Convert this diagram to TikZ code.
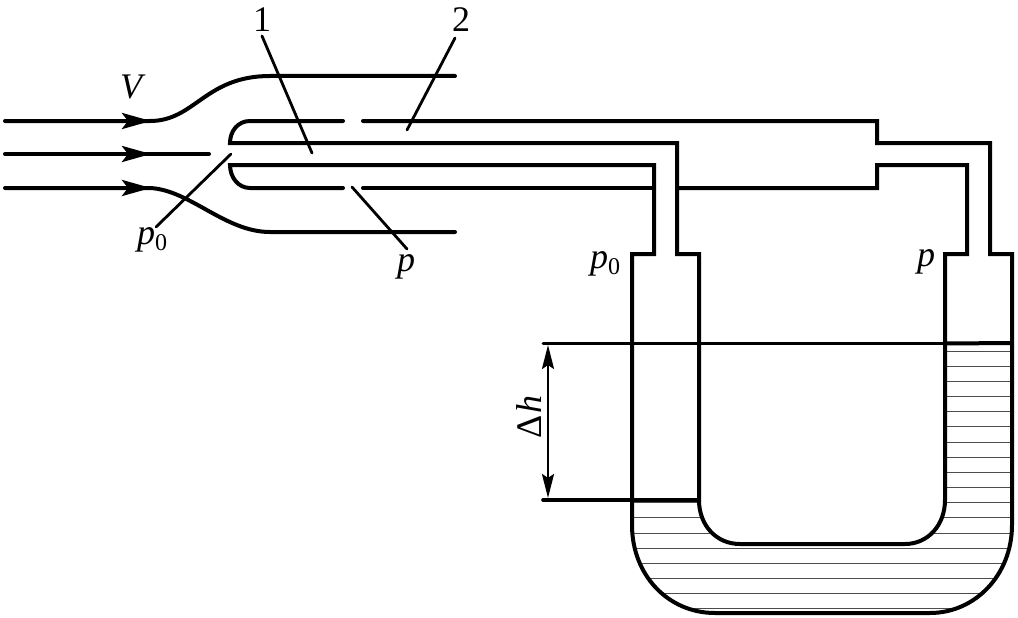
\documentclass[tikz,border=0pt]{standalone}
\usepackage{fontspec}
\setmainfont{Liberation Serif}
\usetikzlibrary{arrows.meta}
\newcommand{\subzero}{\raisebox{-0.17em}{\upshape\fontsize{24}{24}\selectfont 0}}
\tikzset{
  wall/.style={line width=4pt,line join=miter,line cap=butt},
  stream/.style={line width=4pt,line cap=round},
  leader/.style={line width=2.8pt,line cap=round},
  level/.style={line width=3pt},
  hatch/.style={line width=1pt,black!70},
  flowhead/.style={-{Stealth[length=29pt,width=16pt,inset=6pt]},line width=4pt},
  dimline/.style={{Stealth[length=24pt,width=12pt,inset=4pt]}-{Stealth[length=24pt,width=12pt,inset=4pt]},line width=2.8pt},
  lab/.style={font=\fontsize{36}{36}\selectfont,inner sep=0pt}
}
\begin{document}
\begin{tikzpicture}[x=1pt,y=-1pt]
\useasboundingbox (0,0) rectangle (1018,618);
% liquid hatching
\begin{scope}
\clip (945,343) -- (1012,343) -- (1012,525) .. controls (1012,575) and (975,613) .. (930,613)
  -- (715,613) .. controls (668,613) and (632,575) .. (632,525) -- (632,500) -- (699,500)
  .. controls (699,525) and (716,544) .. (740,544) -- (905,544)
  .. controls (928,544) and (945,525) .. (945,500) -- cycle;
\foreach \yy in {351.5,366.5,381.5,396.5,411.5,426.5,442,457,472,487,502,517,533,548,563,578,593,608}
  \draw[hatch] (625,\yy) -- (1015,\yy);
\end{scope}
% streamlines
\draw[stream] (5,121) -- (150,121) .. controls (195,121) and (205,76) .. (270,76) -- (455,76);
\draw[stream] (5,154) -- (209,154);
\draw[stream] (5,188) -- (150,188) .. controls (190,190) and (225,232) .. (270,232) -- (455,232);
\coordinate (a1s) at (100,121); \coordinate (a1e) at (151,121);
\coordinate (a2s) at (100,154); \coordinate (a2e) at (151,154);
\coordinate (a3s) at (100,188); \coordinate (a3e) at (151,188);
\draw[flowhead] (a1s) -- (a1e);
\draw[flowhead] (a2s) -- (a2e);
\draw[flowhead] (a3s) -- (a3e);
% pitot tube and manometer walls
\draw[wall,line cap=round] (343,121) -- (250,121) .. controls (238,121) and (230,131) .. (230,143)
  -- (677,143) -- (677,254) -- (699,254) -- (699,500)
  .. controls (699,525) and (716,544) .. (740,544) -- (905,544)
  .. controls (928,544) and (945,525) .. (945,500) -- (945,254) -- (967,254) -- (967,165)
  -- (877,165) -- (877,188) -- (677,188);
\draw[wall,line cap=round] (363,121) -- (877,121) -- (877,143) -- (990,143) -- (990,254) -- (1012,254)
  -- (1012,525) .. controls (1012,575) and (975,613) .. (930,613) -- (715,613)
  .. controls (668,613) and (632,575) .. (632,525) -- (632,254) -- (654,254) -- (654,165) -- (230,165)
  .. controls (230,177) and (238,188) .. (250,188) -- (343,188);
\draw[wall,line cap=round] (363,188) -- (654,188);
% liquid levels
\coordinate (t1) at (543,343); \coordinate (t2) at (1012,343);
\coordinate (b1) at (543,500); \coordinate (b2) at (699,500);
\draw[level,line cap=round] (t1) -- (t2);
\draw[line width=4pt] (945,343.5) -- (t2);
\draw[line width=3.6pt,line cap=round] (b1) -- (b2);
\coordinate (d1) at (548,345); \coordinate (d2) at (548,498);
\draw[dimline] (d1) -- (d2);
% labels
\node[lab] (n1) at (262,20) {1};
\node[lab] (n2) at (461,20) {2};
\node[lab] (v) at (131,87) {\itshape V};
\node[lab] (p0a) at (152,240) {\itshape p\subzero};
\node[lab] (pa) at (406,267) {\itshape p};
\node[lab] (p0b) at (605,264) {\itshape p\subzero};
\node[lab] (pb) at (926,262) {\itshape p};
\node[lab,rotate=90] (dh) at (529,417) {Δ\kern1pt\itshape h};
% leaders
\coordinate (l1) at (312,153); \coordinate (l2) at (407,130);
\coordinate (l3) at (231,154); \coordinate (l4) at (352,187);
\coordinate (l1s) at (262,36); \coordinate (l2s) at (455,38);
\coordinate (l3s) at (156,227); \coordinate (l4s) at (407,249);
\draw[leader] (l1s) -- (l1);
\draw[leader] (l2s) -- (l2);
\draw[leader] (l3s) -- (l3);
\draw[leader] (l4s) -- (l4);
\end{tikzpicture}
\end{document}
